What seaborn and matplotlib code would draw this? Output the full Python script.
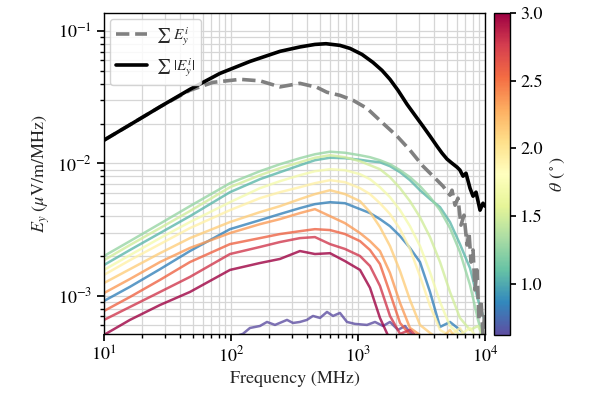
import numpy as np
import pandas as pd
import matplotlib
matplotlib.use("Agg")
import matplotlib.pyplot as plt
import seaborn as sns
from matplotlib.colors import Normalize
from matplotlib.cm import ScalarMappable

# Frequency grid (MHz) shared by the per-angle spectra
freq = [10, 16, 27.6, 47.5, 98.2, 169, 243, 349, 458, 602, 790, 1037, 1243,
        1489, 1786, 2143, 2566, 3076, 3690, 4425, 5300, 6353, 7618, 8810, 10000]

# Per-angle spectra E_y, in units of 1e-3 uV/m/MHz
ey_084 = [0.915, 1.17, 1.59, 2.18, 3.19, 3.73, 4.15, 4.60, 4.93, 5.10, 5.01, 4.52, 4.22,
          3.80, 3.36, 2.83, 2.30, 1.80, 1.07, 0.582, 0.635, 0.553, 0.465, 0.391, 0.328]
ey_105 = [1.71, 2.22, 2.98, 4.00, 6.07, 7.61, 8.59, 9.70, 10.58, 11.05, 10.96, 10.67, 10.40,
          10.22, 9.54, 8.59, 7.48, 6.28, 5.38, 4.68, 3.61, 2.46, 1.62, 0.931, 0.635]
ey_127 = [2.00, 2.59, 3.51, 4.76, 7.10, 8.74, 9.87, 10.96, 11.74, 12.27, 12.05, 11.54, 11.15,
          10.58, 9.87, 8.90, 7.88, 6.74, 5.57, 4.44, 3.25, 2.14, 1.21, 0.658, 0.426]
ey_149 = [1.86, 2.42, 3.25, 4.37, 6.62, 8.16, 9.21, 10.22, 11.05, 11.54, 11.15, 10.40, 9.70,
          9.05, 7.88, 6.51, 5.19, 3.93, 2.78, 1.80, 1.07, 0.681, 0.553, 0.592, 0.465]
ey_170 = [1.57, 2.03, 2.73, 3.61, 5.10, 6.51, 7.35, 8.16, 8.74, 9.05, 8.90, 8.30, 7.61,
          6.62, 5.57, 4.44, 3.36, 2.38, 1.51, 0.899, 0.592, 0.507, 0.572, 0.465, 0.391]
ey_192 = [1.44, 1.86, 2.46, 3.25, 4.44, 5.47, 6.07, 6.62, 7.10, 7.48, 7.22, 6.51, 5.87,
          5.01, 4.15, 3.19, 2.26, 1.41, 0.839, 0.553, 0.498, 0.572, 0.426, 0.391, 0.328]
ey_213 = [1.25, 1.59, 2.10, 2.73, 3.61, 4.29, 4.76, 5.38, 5.87, 6.28, 5.87, 5.19, 4.29,
          3.31, 2.38, 1.54, 0.931, 0.603, 0.525, 0.465, 0.553, 0.426, 0.391, 0.328, 0.328]
ey_235 = [1.05, 1.34, 1.80, 2.30, 2.98, 3.48, 3.80, 4.22, 4.52, 4.00, 3.54, 2.98, 2.59,
          2.18, 1.49, 0.884, 0.572, 0.507, 0.426, 0.507, 0.391, 0.328, 0.328, 0.328, 0.328]
ey_257 = [0.769, 0.980, 1.32, 1.80, 2.46, 2.73, 2.93, 3.08, 3.19, 3.14, 2.93, 2.59, 2.22,
          1.74, 1.05, 0.624, 0.507, 0.465, 0.391, 0.328, 0.328, 0.328, 0.328, 0.328, 0.328]
ey_278 = [0.658, 0.824, 1.07, 1.39, 2.07, 2.34, 2.55, 2.73, 2.78, 2.46, 2.26, 2.00, 1.68,
          1.19, 0.705, 0.516, 0.553, 0.465, 0.328, 0.328, 0.328, 0.328, 0.328, 0.328, 0.328]
ey_300 = [0.507, 0.658, 0.853, 1.07, 1.57, 1.77, 1.90, 2.18, 2.07, 2.10, 1.83, 1.57, 1.15,
          0.681, 0.465, 0.391, 0.328, 0.328, 0.328, 0.328, 0.328, 0.328, 0.328, 0.328, 0.328]

# Smallest angle, sampled on its own grid
freq_062 = [10, 57, 98, 124, 141, 169, 192, 222, 276, 308, 349, 396, 442, 502, 570, 636,
            721, 819, 946, 1177, 1361, 1574, 1786, 2065, 2344, 2661, 3076, 4425, 10000]
ey_062 = [0.232, 0.426, 0.481, 0.516, 0.572, 0.592, 0.635, 0.603, 0.658, 0.624, 0.635,
          0.658, 0.705, 0.681, 0.756, 0.705, 0.743, 0.635, 0.614, 0.603, 0.635, 0.592,
          0.635, 0.553, 0.592, 0.507, 0.426, 0.301, 0.232]

theta = [0.84, 1.05, 1.27, 1.49, 1.70, 1.92, 2.13, 2.35, 2.57, 2.78, 3.00]
spectra = [ey_084, ey_105, ey_127, ey_149, ey_170, ey_192, ey_213, ey_235,
           ey_257, ey_278, ey_300]

# Coherent sum and sum of magnitudes (uV/m/MHz)
freq_sum = [10, 16, 27.6, 47.5, 72.1, 118, 169, 243, 349, 475, 570, 721, 914, 1177, 1574,
            2028, 2566, 3250, 3899, 4670, 5300, 5495, 5808, 6124, 6470, 6834, 7220, 7482,
            7762, 8050, 8337, 8650, 8970, 9304, 9640, 10000]
ey_sum = [0.0150, 0.0196, 0.0268, 0.0357, 0.0410, 0.0432, 0.0421, 0.0379, 0.0403, 0.0376,
          0.0345, 0.0327, 0.0300, 0.0261, 0.0201, 0.0161, 0.0126, 0.00954, 0.00802,
          0.00674, 0.00576, 0.00628, 0.00484, 0.00547, 0.00342, 0.00407, 0.00242,
          0.00303, 0.00180, 0.00222, 0.00111, 0.00157, 0.000658, 0.000931, 0.000507,
          0.000782]

freq_abs = [10, 16, 27.6, 47.5, 81.8, 141, 243, 349, 458, 560, 721, 865, 1074, 1312, 1545,
            1786, 2065, 2432, 2812, 3250, 3690, 4190, 4580, 5020, 5495, 6030, 6353, 6714,
            7086, 7618, 8050, 8497, 9140, 9640, 10000]
ey_abs = [0.0150, 0.0196, 0.0268, 0.0363, 0.0479, 0.0590, 0.0703, 0.0759, 0.0793, 0.0803,
          0.0780, 0.0740, 0.0667, 0.0580, 0.0505, 0.0432, 0.0357, 0.0280, 0.0231, 0.0191,
          0.0161, 0.0135, 0.0120, 0.0108, 0.01005, 0.00937, 0.00890, 0.00802, 0.00844,
          0.00651, 0.00566, 0.00607, 0.00444, 0.00501, 0.00476]

# Long-form table of all angle spectra
rows = []
for f, e in zip(freq_062, ey_062):
    rows.append((0.62, f, e * 1e-3))
for th, sp in zip(theta, spectra):
    for f, e in zip(freq, sp):
        rows.append((th, f, e * 1e-3))
df = pd.DataFrame(rows, columns=["theta", "freq", "ey"])

sns.set_theme(style="ticks")
plt.rcParams.update({
    "font.family": ["STIXGeneral", "DejaVu Serif"],
    "mathtext.fontset": "stix",
    "font.size": 13,
    "axes.edgecolor": "black",
    "axes.linewidth": 1.0,
    "xtick.color": "black",
    "ytick.color": "black",
    "xtick.major.size": 5,
    "ytick.major.size": 5,
    "xtick.minor.size": 3,
    "ytick.minor.size": 3,
})

fig = plt.figure(figsize=(5.9, 4.05), dpi=100)
ax = fig.add_axes([104 / 590, 1 - 334 / 405, 381 / 590, 321 / 405])
cax = fig.add_axes([494 / 590, 1 - 335 / 405, 16 / 590, 322 / 405])

vmin, vmax = 0.62, 3.0
norm = Normalize(vmin=vmin, vmax=vmax)
cmap = plt.get_cmap("Spectral_r")

sns.lineplot(data=df, x="freq", y="ey", hue="theta", palette=cmap, hue_norm=norm,
             estimator=None, sort=True, lw=1.8, alpha=0.8, legend=False, ax=ax)

sns.lineplot(x=freq_sum, y=ey_sum, color="grey", lw=2.6, ls="--", estimator=None,
             sort=False, label=r"$\sum\ E_y^i$", ax=ax)
sns.lineplot(x=freq_abs, y=ey_abs, color="black", lw=2.6, estimator=None,
             sort=False, label=r"$\sum\ |E_y^i|$", ax=ax)

ax.set_xscale("log")
ax.set_yscale("log")
ax.set_xlim(10, 1e4)
ax.set_ylim(5.15e-4, 0.137)
ax.grid(True, which="both", color="#d6d6d6", lw=0.9)
ax.set_axisbelow(True)
ax.set_xlabel("Frequency (MHz)", fontsize=13)
ax.set_ylabel(r"$E_y$ ($\mu$V/m/MHz)", fontsize=13)
ax.tick_params(axis="both", which="major", labelsize=13)

leg = ax.legend(loc="upper left", fontsize=11, frameon=True, fancybox=True,
                framealpha=0.85, edgecolor="#cccccc", handlelength=2.0,
                handletextpad=0.6, labelspacing=0.55, borderaxespad=0.4)

cb = fig.colorbar(ScalarMappable(norm=norm, cmap=cmap), cax=cax)
cb.set_ticks([1.0, 1.5, 2.0, 2.5, 3.0])
cb.ax.tick_params(labelsize=13, length=4)
cb.outline.set_linewidth(1.0)
cb.set_label(r"$\theta$ ($^\circ$)", fontsize=13)

fig.savefig("out.png", dpi=100)
